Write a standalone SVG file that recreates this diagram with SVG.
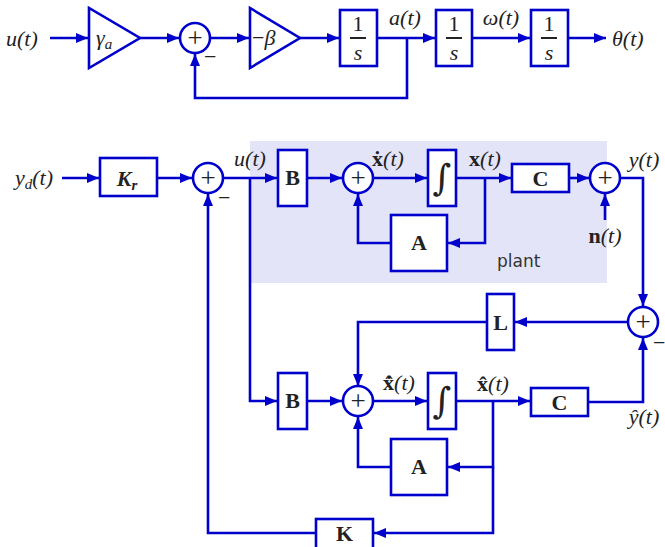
<svg xmlns="http://www.w3.org/2000/svg" width="665" height="547" viewBox="0 0 665 547">
<defs>
<marker id="ar" markerUnits="userSpaceOnUse" markerWidth="14" markerHeight="12" refX="12" refY="6" orient="auto">
<path d="M0,1 L12,6 L0,11 Z" fill="#0000cc"/>
</marker>
<style>
.s{fill:none;stroke:#0000cc;stroke-width:2.6}
.b{fill:#fff;stroke:#0000cc;stroke-width:2.6}
.w{stroke:#0000cc;stroke-width:2.6;fill:none;marker-end:url(#ar)}
.m{font-family:"Liberation Serif","DejaVu Serif",serif;font-size:22px;fill:#222}
.i{font-style:italic}
.bd{font-weight:bold}
.c{text-anchor:middle}
.p{font-family:"Liberation Serif",serif;font-size:27px;fill:#222;text-anchor:middle}
.ig{font-family:"DejaVu Serif",serif;font-size:36px;fill:#222;text-anchor:middle;font-style:italic}
.pl{font-family:"DejaVu Sans","Liberation Sans",sans-serif;font-size:17px;fill:#333}
</style>
</defs>
<rect x="250" y="141" width="357" height="142" fill="#e4e4f8"/>
<g id="connectors">
<line class="w" x1="50" y1="38" x2="88" y2="38"/>
<line class="w" x1="140" y1="38" x2="179" y2="38"/>
<line class="w" x1="210" y1="38" x2="249" y2="38"/>
<line class="w" x1="300" y1="38" x2="339" y2="38"/>
<line class="w" x1="377" y1="38" x2="435" y2="38"/>
<polyline class="w" points="407,38 407,98 195,98 195,54"/>
<line class="w" x1="472" y1="38" x2="530" y2="38"/>
<line class="w" x1="568" y1="38" x2="606" y2="38"/>
<line class="w" x1="62" y1="178" x2="99" y2="178"/>
<line class="w" x1="157" y1="178" x2="192" y2="178"/>
<line class="w" x1="223" y1="178" x2="277" y2="178"/>
<polyline class="w" points="250,178 250,401 277,401"/>
<line class="w" x1="307" y1="178" x2="342" y2="178"/>
<line class="w" x1="373" y1="178" x2="427" y2="178"/>
<line class="w" x1="456" y1="178" x2="511" y2="178"/>
<polyline class="w" points="485,178 485,243 448,243"/>
<polyline class="w" points="391,243 358,243 358,194"/>
<line class="w" x1="569" y1="178" x2="589" y2="178"/>
<line class="w" x1="605" y1="220" x2="605" y2="194"/>
<polyline class="w" points="620,178 643,178 643,306"/>
<line class="w" x1="628" y1="322" x2="515" y2="322"/>
<polyline class="w" points="487,322 358,322 358,386"/>
<line class="w" x1="307" y1="401" x2="342" y2="401"/>
<line class="w" x1="373" y1="401" x2="427" y2="401"/>
<line class="w" x1="456" y1="401" x2="530" y2="401"/>
<polyline class="w" points="588,402 643,402 643,338"/>
<polyline class="w" points="493,401 493,467 448,467"/>
<polyline class="w" points="391,467 358,467 358,417"/>
<polyline class="w" points="493,467 493,533 374,533"/>
<polyline class="w" points="316,533 208,533 208,194"/>
</g>
<g id="u_label"><text class="m i" x="6" y="46">u(t)</text></g>
<g id="gain_gamma"><polygon class="b" points="89,8 89,68 140,38"/><text class="m i" x="96" y="45">γ<tspan font-size="15" dy="4">a</tspan></text></g>
<g id="sum1"><circle class="b" cx="195" cy="38" r="15"/><text class="p" x="195" y="47">+</text><text class="m" x="204" y="64">−</text></g>
<g id="gain_beta"><polygon class="b" points="250,8 250,68 300,38"/><text class="m" x="252" y="45">−<tspan class="i">β</tspan></text></g>
<g id="int1"><rect class="b" x="340" y="10" width="37" height="56"/><text class="m c" x="358" y="31">1</text><line x1="350" y1="38" x2="366" y2="38" stroke="#222" stroke-width="2"/><text class="m i c" x="358" y="60">s</text></g>
<g id="a_label"><text class="m i c" x="405" y="25">a(t)</text></g>
<g id="int2"><rect class="b" x="436" y="10" width="36" height="56"/><text class="m c" x="454" y="31">1</text><line x1="446" y1="38" x2="462" y2="38" stroke="#222" stroke-width="2"/><text class="m i c" x="454" y="60">s</text></g>
<g id="w_label"><text class="m i c" x="501" y="25">ω(t)</text></g>
<g id="int3"><rect class="b" x="531" y="10" width="37" height="56"/><text class="m c" x="549" y="31">1</text><line x1="541" y1="38" x2="557" y2="38" stroke="#222" stroke-width="2"/><text class="m i c" x="549" y="60">s</text></g>
<g id="theta_label"><text class="m i" x="612" y="46">θ(t)</text></g>

<g id="yd_label"><text class="m i" x="15" y="185">y<tspan font-size="15" dy="4">d</tspan><tspan dy="-4">(t)</tspan></text></g>
<g id="Kr"><rect class="b" x="100" y="158" width="57" height="38"/><text class="m i bd c" x="127" y="186">K<tspan font-size="15" dy="4">r</tspan></text></g>
<g id="sum2"><circle class="b" cx="208" cy="178" r="15"/><text class="p" x="208" y="187">+</text><text class="m" x="218" y="205">−</text></g>
<g id="u2_label"><text class="m i c" x="250" y="166">u(t)</text></g>
<g id="B1"><rect class="b" x="278" y="150" width="29" height="56"/><text class="m bd c" x="292.5" y="185">B</text></g>
<g id="sum3"><circle class="b" cx="358" cy="178" r="15"/><text class="p" x="358" y="187">+</text></g>
<g id="xdot_label"><text class="m c" x="388" y="166"><tspan class="bd">ẋ</tspan><tspan class="i">(t)</tspan></text></g>
<g id="integ1"><rect class="b" x="428" y="150" width="28" height="56"/><text class="ig" x="442" y="190">∫</text></g>
<g id="x_label"><text class="m c" x="485" y="166"><tspan class="bd">x</tspan><tspan class="i">(t)</tspan></text></g>
<g id="A1"><rect class="b" x="391" y="215" width="56" height="56"/><text class="m bd c" x="419" y="250">A</text></g>
<g id="C1"><rect class="b" x="512" y="164" width="57" height="28"/><text class="m bd c" x="540.5" y="186">C</text></g>
<g id="sum4"><circle class="b" cx="605" cy="178" r="15"/><text class="p" x="605" y="187">+</text></g>
<g id="y_label"><text class="m i c" x="644" y="167">y(t)</text></g>
<g id="n_label"><text class="m c" x="605" y="243"><tspan class="bd">n</tspan><tspan class="i">(t)</tspan></text></g>
<g id="plant_label"><text class="pl" x="497" y="267">plant</text></g>
<g id="sum5"><circle class="b" cx="643" cy="322" r="15"/><text class="p" x="643" y="331">+</text><text class="m" x="653" y="350">−</text></g>
<g id="L"><rect class="b" x="487" y="294" width="27" height="56"/><text class="m bd c" x="500.5" y="330">L</text></g>
<g id="B2"><rect class="b" x="278" y="373" width="29" height="56"/><text class="m bd c" x="292.5" y="408">B</text></g>
<g id="sum6"><circle class="b" cx="358" cy="401" r="15"/><text class="p" x="358" y="410">+</text></g>
<g id="xhatdot_label"><text class="m c" x="399" y="390"><tspan class="bd">x̂̇</tspan><tspan class="i">(t)</tspan></text></g>
<g id="integ2"><rect class="b" x="428" y="373" width="28" height="56"/><text class="ig" x="442" y="413">∫</text></g>
<g id="xhat_label"><text class="m c" x="493" y="391"><tspan class="bd">x̂</tspan><tspan class="i">(t)</tspan></text></g>
<g id="C2"><rect class="b" x="531" y="388" width="57" height="28"/><text class="m bd c" x="559.5" y="410">C</text></g>
<g id="yhat_label"><text class="m i c" x="644" y="424">ŷ(t)</text></g>
<g id="A2"><rect class="b" x="391" y="439" width="56" height="56"/><text class="m bd c" x="419" y="474">A</text></g>
<g id="K"><rect class="b" x="316" y="519" width="57" height="30"/><text class="m bd c" x="344.5" y="541">K</text></g>
</svg>
